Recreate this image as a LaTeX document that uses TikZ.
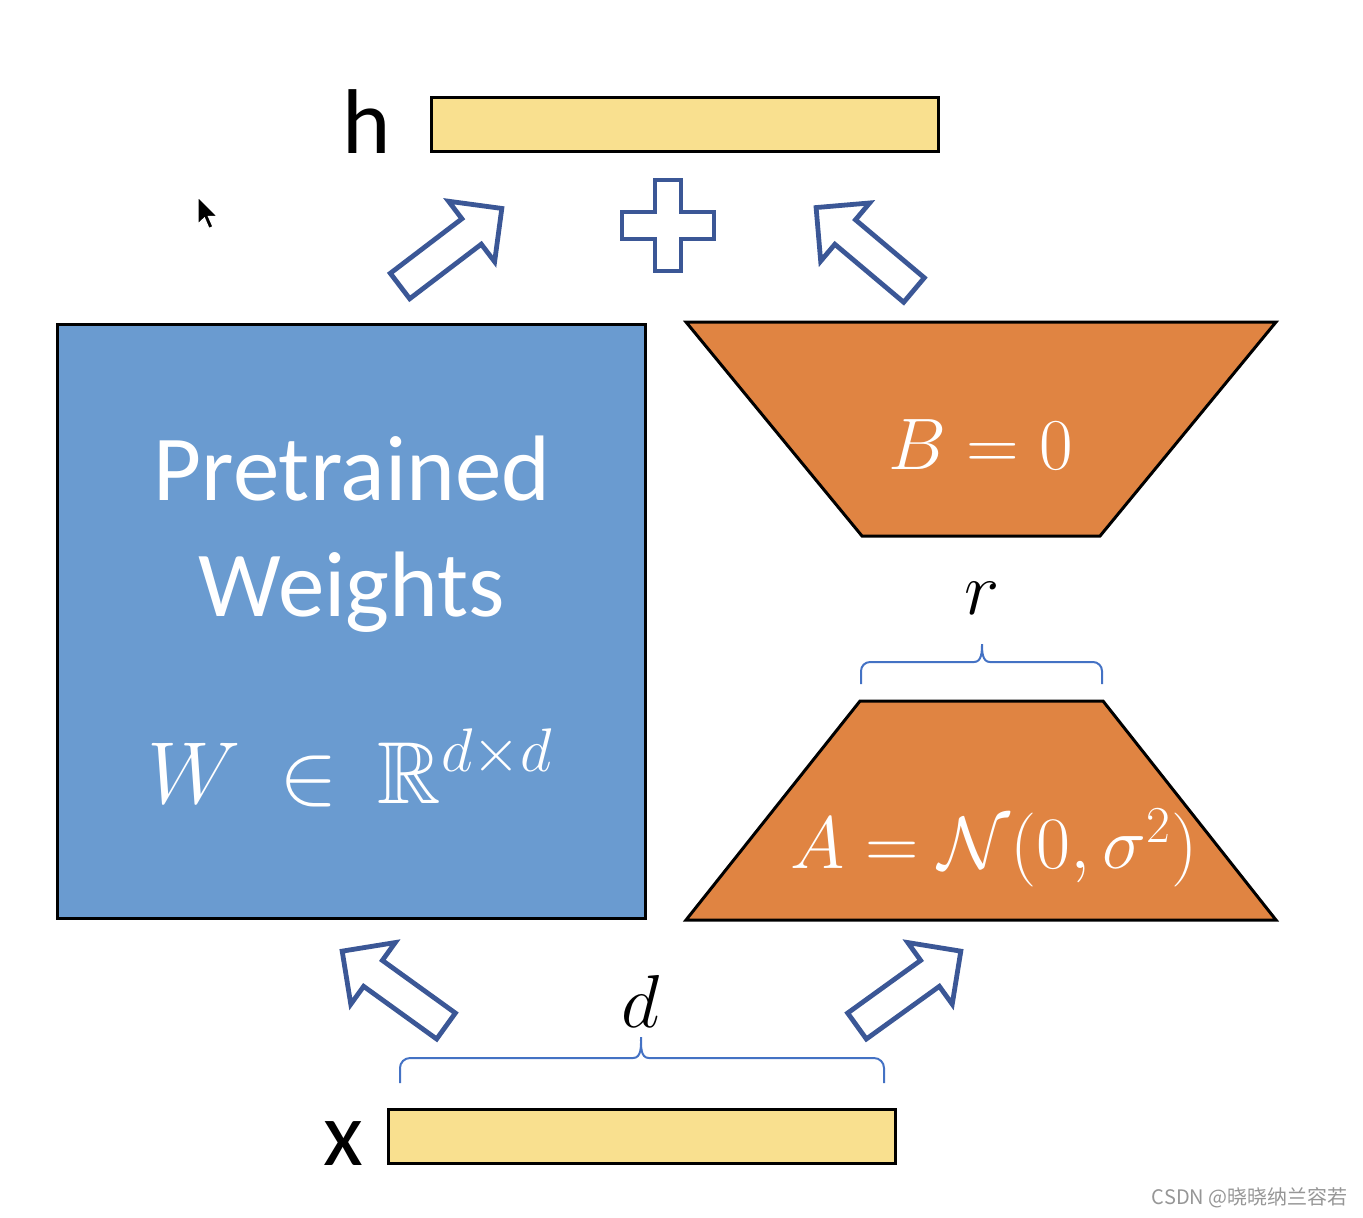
\RequirePackage{fix-cm}
\documentclass[tikz,border=0pt]{standalone}
\usepackage{amsmath,amssymb}
\usepackage{fontspec}
\setmainfont{Carlito}
\newfontfamily\cjkfont{Noto Sans CJK SC}
\definecolor{vecyellow}{RGB}{249,224,143}
\definecolor{wblue}{RGB}{106,155,208}
\definecolor{lorange}{RGB}{224,132,66}
\definecolor{arrowblue}{RGB}{59,87,150}
\definecolor{braceblue}{RGB}{68,114,196}
\definecolor{wmgray}{RGB}{150,150,150}
\tikzset{
  vecbox/.style={draw=black, line width=1.5pt, fill=vecyellow, inner sep=0pt,
    minimum width=253.5pt, minimum height=27pt},
  matbox/.style={draw=black, line width=1.5pt, fill=wblue, inner sep=0pt,
    minimum width=294pt, minimum height=297pt},
  trap/.style={draw=black, line width=1.5pt, fill=lorange, line join=miter},
  arrowline/.style={draw=arrowblue, line width=2.4pt, fill=white, line join=miter},
  bracestyle/.style={draw=braceblue, line width=1pt},
  biglabel/.style={font=\fontsize{46pt}{50pt}\selectfont, inner sep=0pt},
  whitetext/.style={text=white, inner sep=0pt, align=center},
  blockarrow/.pic={
    \path[arrowline] (0,-16) -- (90,-16) -- (90,-38) -- (128,0) -- (90,38) -- (90,16) -- (0,16) -- cycle;
  }
}
\begin{document}
\begin{tikzpicture}[x=0.5pt,y=-0.5pt]
\useasboundingbox (0,0) rectangle (1363,1217);

% vectors
\node[vecbox] (h) at (685,124.5) {};
\node[vecbox] (x) at (641.5,1136.5) {};
\node[biglabel, anchor=base] (hl) at (367,153) {h};
\node[biglabel, anchor=base] (xl) at (343,1165) {x};

% pretrained weights
\node[matbox] (W) at (351.5,621.5) {};
\node[whitetext, font=\fontsize{46.5pt}{56pt}\selectfont] (pt) at (352,534) {Pretrained\\[2pt]Weights};
\node[whitetext, font=\fontsize{44pt}{50pt}\selectfont] (wl) at (350,768) {$W\,\in\,\mathbb{R}^{d\times d}$};

% B and A
\coordinate (b1) at (686,322);
\coordinate (b2) at (1276,322);
\coordinate (b3) at (1100,536);
\coordinate (b4) at (862,536);
\path[trap] (b1) -- (b2) -- (b3) -- (b4) -- cycle;
\coordinate (a1) at (860,701);
\coordinate (a2) at (1103,701);
\coordinate (a3) at (1276,920);
\coordinate (a4) at (686,920);
\path[trap] (a1) -- (a2) -- (a3) -- (a4) -- cycle;
\node[whitetext, font=\fontsize{36.5pt}{40pt}\selectfont] (Bl) at (981,445) {$B=0$};
\node[whitetext, font=\fontsize{37pt}{40pt}\selectfont] (Al) at (994,848) {$A=\mathcal{N}(0,\sigma^2)$};

% braces
\coordinate (rb1) at (861,684);
\coordinate (rb2) at (1102,684);
\draw[bracestyle] (rb1) -- (861,671) to[out=90,in=180] (870,662) -- (974,662)
  to[out=0,in=-90] (982,644) to[out=-90,in=180] (990,662) -- (1093,662)
  to[out=0,in=90] (1102,671) -- (rb2);
\node[font=\fontsize{37.5pt}{40pt}\selectfont, inner sep=0pt] (r) at (982,598) {$r$};
\coordinate (db1) at (400,1083);
\coordinate (db2) at (884,1083);
\draw[bracestyle] (db1) -- (400,1068) to[out=90,in=180] (410,1058) -- (633,1058)
  to[out=0,in=-90] (641,1037) to[out=-90,in=180] (649,1058) -- (874,1058)
  to[out=0,in=90] (884,1068) -- (db2);
\node[font=\fontsize{37.5pt}{40pt}\selectfont, inner sep=0pt] (d) at (641,1001) {$d$};

% block arrows
\pic[rotate=37.3] at (400,286) {blockarrow};
\pic[rotate=139.9] at (914,290) {blockarrow};
\pic[rotate=144.2] at (446,1026) {blockarrow};
\pic[rotate=35.8] at (857,1026) {blockarrow};

% plus sign
\path[arrowline, line width=2pt] (655,180) -- (681,180) -- (681,212) -- (714,212) -- (714,239) -- (681,239) -- (681,271) -- (655,271) -- (655,239) -- (622,239) -- (622,212) -- (655,212) -- cycle;

% mouse cursor
\begin{scope}[shift={(198,197)}, x=0.75pt, y=-0.75pt]
\path[fill=black, draw=white, line width=0.6pt, line join=miter]
  (0,0) -- (0,18) -- (4.3,14) -- (7.3,21) -- (10,19.8) -- (7,13) -- (13,13) -- cycle;
\end{scope}

% watermark
\node[anchor=east, text=wmgray, inner sep=0pt, font=\cjkfont\fontsize{10pt}{12pt}\selectfont] (wm) at (1348,1198) {CSDN @晓晓纳兰容若};
\end{tikzpicture}
\end{document}
